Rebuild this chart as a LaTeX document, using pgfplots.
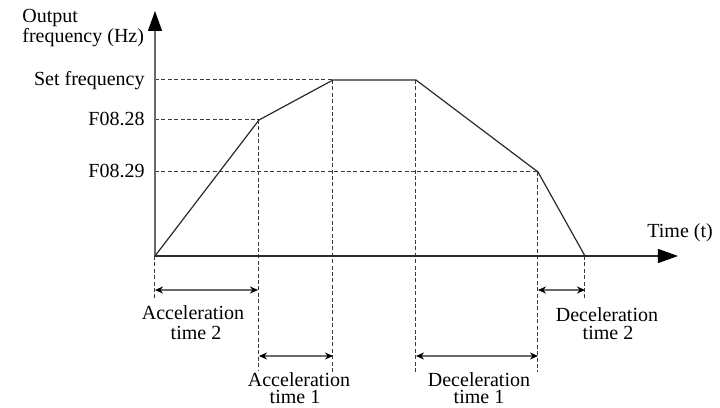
\documentclass[border=0pt]{standalone}
\usepackage{fontspec}
\setmainfont{Liberation Serif}
\usepackage{pgfplots}
\pgfplotsset{compat=1.18}
\usetikzlibrary{arrows.meta}
\definecolor{Ink}{HTML}{2A2A2A}
\definecolor{Guide}{HTML}{3A3A3A}
\definecolor{Rule}{HTML}{6A6A6A}

\begin{document}
\begin{tikzpicture}[font=\fontsize{10}{12}\selectfont]
\begin{axis}[
  scale only axis,width=360pt,height=204pt,
  xmin=-155,xmax=565,ymin=-152,ymax=256,
  hide axis,clip=false,
  guide/.style={Guide,line width=0.5pt,dash pattern=on 2pt off 1.2pt,forget plot}]
% bounding box = whole picture
\path (rel axis cs:0,0) rectangle (rel axis cs:1,1);
% dashed guides
\addplot[guide] coordinates {(0,176) (178,176)};
\addplot[guide] coordinates {(0,136) (104,136)};
\addplot[guide] coordinates {(0,84) (383,84)};
\addplot[guide] coordinates {(0,0) (0,-44)};
\addplot[guide] coordinates {(104,136) (104,-114)};
\addplot[guide] coordinates {(178,176) (178,-116)};
\addplot[guide] coordinates {(261,176) (261,-116)};
\addplot[guide] coordinates {(383,84) (383,-116)};
\addplot[guide] coordinates {(430,0) (430,-44)};
% axes
\draw[Rule,line width=0.6pt,-{Triangle[length=10pt,width=7pt,black]}] (axis cs:0,0) -- (axis cs:0,245);
\draw[Ink,line width=0.6pt,-{Triangle[length=10pt,width=7pt,black]}] (axis cs:0,0) -- (axis cs:523,0);
% output frequency profile
\addplot[Ink,line width=0.6pt,mark=none] coordinates {(0,0) (104,136) (178,176) (261,176) (383,84) (430,0)};
% time spans
\tikzset{span/.style={Rule,line width=0.6pt,{Stealth[length=4pt,width=3.5pt,black]}-{Stealth[length=4pt,width=3.5pt,black]}}}
\draw[span] (axis cs:0,-34) -- (axis cs:103,-34);
\draw[span] (axis cs:104,-100) -- (axis cs:178,-100);
\draw[span] (axis cs:261,-100) -- (axis cs:383,-100);
\draw[span] (axis cs:383,-34) -- (axis cs:430,-34);
% labels
\node[anchor=base west,inner sep=0pt] at (axis cs:-133,233) {Output};
\node[anchor=base west,inner sep=0pt] at (axis cs:-133,213) {frequency (Hz)};
\node[anchor=mid east,inner sep=0pt] at (axis cs:-10,175) {Set frequency};
\node[anchor=mid east,inner sep=0pt] at (axis cs:-10,135) {F08.28};
\node[anchor=mid east,inner sep=0pt] at (axis cs:-10,83) {F08.29};
\node[anchor=base west,inner sep=0pt] at (axis cs:492,18) {Time (t)};
\node[anchor=base,inner sep=0pt] at (axis cs:38,-64) {Acceleration};
\node[anchor=base,inner sep=0pt] at (axis cs:41,-84) {time 2};
\node[anchor=base,inner sep=0pt] at (axis cs:144,-131) {Acceleration};
\node[anchor=base,inner sep=0pt] at (axis cs:140,-148) {time 1};
\node[anchor=base,inner sep=0pt] at (axis cs:324,-131) {Deceleration};
\node[anchor=base,inner sep=0pt] at (axis cs:324,-148) {time 1};
\node[anchor=base,inner sep=0pt] at (axis cs:452,-66) {Deceleration};
\node[anchor=base,inner sep=0pt] at (axis cs:453,-84) {time 2};
\end{axis}
\end{tikzpicture}
\end{document}
